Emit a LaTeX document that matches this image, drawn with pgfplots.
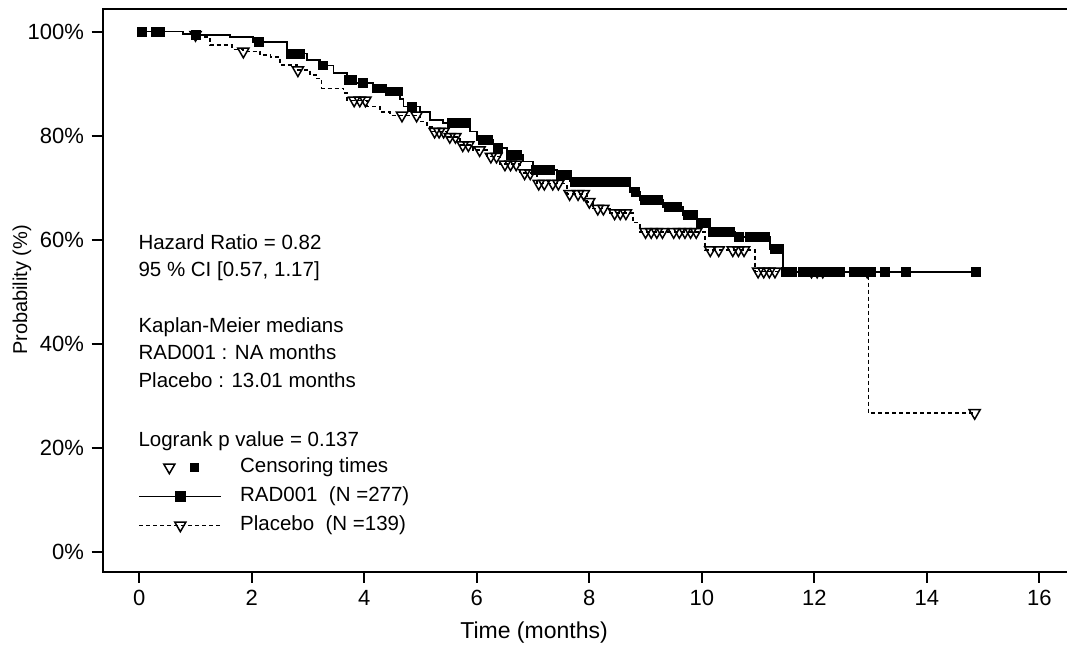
\documentclass[border=0pt]{standalone}
\usepackage{pgfplots}
\pgfplotsset{compat=1.18}
\usepackage{fontspec}
\setmainfont{Liberation Sans}

\begin{document}
\fontsize{11pt}{13.5pt}\selectfont
\begin{tikzpicture}
\begin{axis}[
  scale only axis, width=484.65pt, height=281.2pt,
  at={(0,0)}, anchor=south west,
  xmin=-0.65, xmax=16.58, ymin=-3.85, ymax=104.3,
  xtick={0,2,...,16}, ytick={0,20,...,100},
  yticklabel={\pgfmathprintnumber{\tick}\%},
  /pgf/number format/assume math mode=true,
  tick pos=left, tick align=outside, major tick length=5.5pt,
  every tick/.style={black, line width=0.9pt},
  axis line style={line width=1pt},
  xlabel={Time (months)}, ylabel={Probability (\%)},
  xlabel style={at={(axis description cs:0.445,-0.109)}, anchor=center, font=\fontsize{11.5pt}{13pt}\selectfont},
  ylabel style={at={(axis description cs:-0.0834,0.501)}, anchor=center, font=\fontsize{10pt}{12pt}\selectfont},
  legend style={at={(axis cs:-0.02,18.9)}, anchor=north west, draw=none, fill=none,
    inner sep=0pt, row sep=1pt, font=\fontsize{10.25pt}{12pt}\selectfont,
    nodes={inner sep=1pt, text height=8.5pt, text depth=3pt},
    /tikz/every odd column/.append style={column sep=8pt}},
  legend cell align=left,
  legend image code/.code={\draw[mark repeat=2,mark phase=2,#1] plot coordinates {(0pt,0pt) (20.5pt,0pt) (41pt,0pt)};},
  clip=false,
]
% legend entries
\addlegendimage{legend image code/.code={%
  \path[draw=none] (0pt,0pt) -- (41pt,0pt);
  \path[draw=none] plot[mark=triangle, mark size=3.2pt, mark options={draw=black, rotate=180, fill=white, line width=0.75pt}] coordinates {(15pt,0pt)};
  \path[draw=none] plot[mark=square*, mark size=2.2pt, mark options={draw=black, fill=black}] coordinates {(27.5pt,0pt)};}}
\addlegendimage{black, line width=0.8pt, mark=square*, mark size=2.2pt}
\addlegendimage{black, line width=0.8pt, dash pattern=on 2pt off 1.5pt, mark=triangle, mark size=3.2pt, mark options={solid, rotate=180, fill=white, line width=0.75pt}}

% RAD001 step curve
\addplot[black, line width=0.8pt, const plot, forget plot] coordinates {
(0,100) (0.78,99.6) (0.96,99.4) (1.61,99.0) (2.02,98.0) (2.63,95.8) (2.98,94.5)
(3.21,93.5) (3.45,92.0) (3.69,90.7) (3.8,90.1) (4.16,89.1) (4.4,88.5) (4.63,87.0)
(4.7,85.6) (4.99,84.6) (5.17,83.0) (5.4,82.4) (5.88,80.8) (6.0,79.2) (6.3,77.6)
(6.54,76.3) (6.82,75.0) (7.0,73.4) (7.43,72.4) (7.66,71.15) (8.72,69.2) (8.9,67.6)
(9.31,66.3) (9.67,64.7) (9.92,63.2) (10.14,61.5) (10.59,60.5) (11.21,58.2)
(11.44,53.8) (14.87,53.8)};

% Placebo step curve
\addplot[black, line width=0.8pt, const plot, dash pattern=on 2pt off 1.5pt, forget plot] coordinates {
(0,100) (0.78,99.6) (0.96,99.4) (1.03,99.0) (1.26,97.4) (1.65,96.6) (1.84,96.2)
(2.15,95.5) (2.33,95.1) (2.5,93.6) (2.8,92.6) (3.04,91.7) (3.14,91.0) (3.24,89.1)
(3.63,88.2) (3.69,86.8) (4.05,85.6) (4.28,84.6) (4.46,83.9) (5.0,82.7) (5.11,81.7)
(5.2,80.8) (5.47,79.8) (5.7,78.2) (5.93,77.25) (6.18,76.0) (6.41,74.5) (6.77,72.8)
(7.07,70.8) (7.6,68.8) (7.96,67.3) (8.07,66.0) (8.37,65.1) (8.78,63.3) (8.9,61.5)
(10.06,58.0) (10.95,53.9) (12.96,26.7) (14.85,26.7)};

% RAD001 censoring times
\addplot[only marks, mark=square*, mark size=2.2pt, black, forget plot] coordinates {
(0.05,100) (0.3,100) (0.36,100) (1.0,99.4) (2.12,98.0) (2.7,95.8) (2.85,95.8)
(3.27,93.5) (3.72,90.7) (3.78,90.7) (3.98,90.1) (4.22,89.1) (4.32,89.1) (4.45,88.5)
(4.6,88.5) (4.85,85.6) (5.55,82.4) (5.65,82.4) (5.8,82.4) (6.1,79.2) (6.2,79.2)
(6.38,77.6) (6.6,76.3) (6.72,76.3) (7.05,73.4) (7.15,73.4) (7.3,73.4) (7.5,72.4)
(7.6,72.4) (7.75,71.15) (7.85,71.15) (7.95,71.15) (8.05,71.15) (8.15,71.15)
(8.25,71.15) (8.35,71.15) (8.45,71.15) (8.55,71.15) (8.65,71.15) (8.82,69.2)
(8.98,67.6) (9.1,67.6) (9.22,67.6) (9.42,66.3) (9.55,66.3) (9.75,64.7) (9.85,64.7)
(9.98,63.2) (10.08,63.2) (10.2,61.5) (10.38,61.5) (10.5,61.5) (10.66,60.5)
(10.85,60.5) (10.98,60.5) (11.12,60.5) (11.3,58.2) (11.38,58.2) (11.5,53.8)
(11.6,53.8) (11.8,53.8) (11.9,53.8) (12.0,53.8) (12.1,53.8) (12.2,53.8) (12.35,53.8)
(12.45,53.8) (12.7,53.8) (12.8,53.8) (12.9,53.8) (13.0,53.8) (13.26,53.8)
(13.63,53.8) (14.87,53.8)};

% Placebo censoring times
\addplot[only marks, mark=triangle, mark size=3.2pt, black,
  mark options={rotate=180, fill=white, line width=0.75pt}, forget plot] coordinates {
(1.0,99.4) (1.85,96.2) (2.82,92.6) (3.82,86.8) (3.92,86.8) (4.02,86.8) (4.67,83.9)
(4.93,83.9) (5.25,80.8) (5.33,80.8) (5.41,80.8) (5.52,79.8) (5.62,79.8) (5.75,78.2)
(5.85,78.2) (6.05,77.25) (6.25,76.0) (6.35,76.0) (6.5,74.5) (6.6,74.5) (6.7,74.5)
(6.85,72.8) (6.95,72.8) (7.1,70.8) (7.2,70.8) (7.35,70.8) (7.45,70.8) (7.65,68.8)
(7.8,68.8) (7.9,68.8) (8.0,67.3) (8.15,66.0) (8.25,66.0) (8.45,65.1) (8.55,65.1)
(8.65,65.1) (9.0,61.5) (9.1,61.5) (9.2,61.5) (9.3,61.5) (9.5,61.5) (9.6,61.5)
(9.7,61.5) (9.8,61.5) (9.9,61.5) (10.15,58.0) (10.3,58.0) (10.55,58.0) (10.65,58.0)
(10.75,58.0) (11.0,53.9) (11.1,53.9) (11.2,53.9) (11.3,53.9) (11.95,53.9)
(12.05,53.9) (12.15,53.9) (12.94,53.9) (14.85,26.7)};

\legend{Censoring times, RAD001\ \ (N =277), Placebo\ \ (N =139)}

\begin{scope}[every node/.style={anchor=base west, inner sep=0pt, font=\fontsize{10.25pt}{12pt}\selectfont}]
\node at (axis cs:-0.02,58.2) {Hazard Ratio = 0.82};
\node at (axis cs:-0.02,52.9) {95 \% CI [0.57, 1.17]};
\node at (axis cs:-0.02,42.15) {Kaplan-Meier medians};
\node at (axis cs:-0.02,36.9) {RAD001 : NA months};
\node at (axis cs:-0.02,31.5) {Placebo : 13.01 months};
\node at (axis cs:-0.02,20.3) {Logrank p value = 0.137};
\end{scope}
\end{axis}
\pgfresetboundingbox
\useasboundingbox (-51.35pt,-39.15pt) rectangle (482.15pt,285.85pt);
\end{tikzpicture}
\end{document}
